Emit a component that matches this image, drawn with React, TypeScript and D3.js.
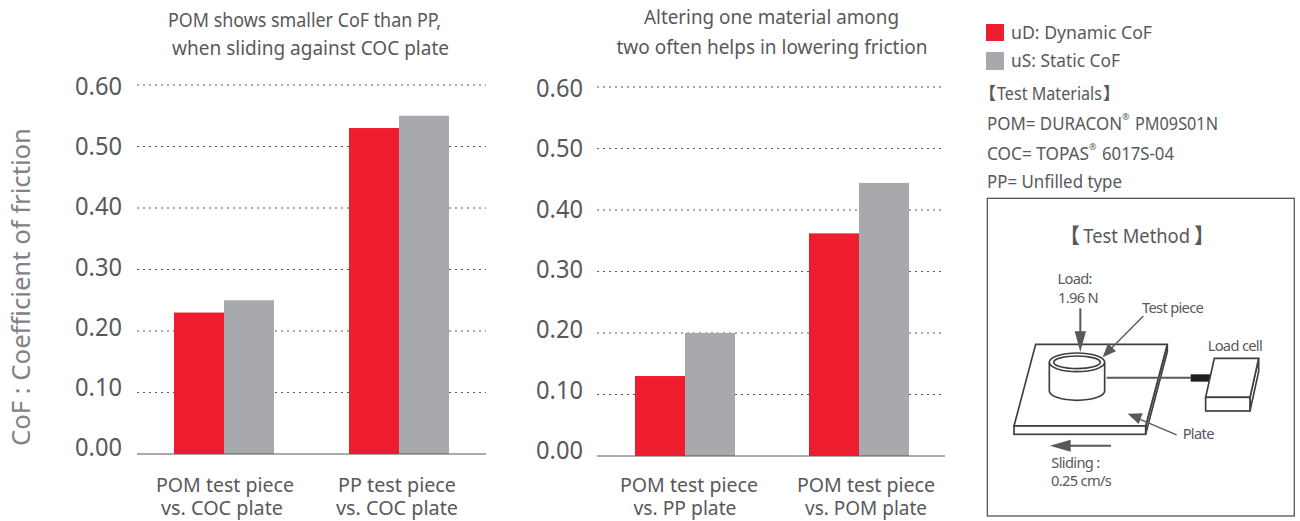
import React from "react";
import * as d3 from "d3";

const FONT = "'Noto Sans', 'Open Sans', sans-serif";
const CJK = "'Noto Sans CJK JP', sans-serif";
const RED = "#ed1c2e";
const GREY = "#a7a9ac";
const TEXT = "#58595b";

const ticks = [0, 0.1, 0.2, 0.3, 0.4, 0.5, 0.6];
const leftCategories = [["POM test piece", "vs. COC plate"], ["PP test piece", "vs. COC plate"]];
const leftDynamic = [0.23, 0.53];
const leftStatic = [0.25, 0.55];
const rightCategories = [["POM test piece", "vs. PP plate"], ["POM test piece", "vs. POM plate"]];
const rightDynamic = [0.13, 0.362];
const rightStatic = [0.2, 0.444];
const leftTitle = ["POM shows smaller CoF than PP,", "when sliding against COC plate"];
const rightTitle = ["Altering one material among", "two often helps in lowering friction"];

type PanelProps = {
  x0: number; x1: number; yZero: number; yTop: number; tickBase: [number, number];
  centers: number[]; labels: string[][]; dyn: number[]; sta: number[];
  title: string[]; titleX: number[]; titleY: number[]; titleW: number[];
  labelX: number[][]; labelY: number[]; labelW: number[][]; tickX: number;
};

function Panel(p: PanelProps) {
  const y = d3.scaleLinear().domain([0, 0.6]).range([p.yZero, p.yTop]);
  const yLabel = d3.scaleLinear().domain([0, 0.6]).range(p.tickBase);
  const barW = 50;
  return (
    <g fontFamily={FONT}>
      {ticks.map((t) => (
        <g key={t}>
          {t > 0 && (
            <line x1={p.x0} x2={p.x1} y1={y(t)} y2={y(t)} stroke="#58595b" strokeWidth={1} strokeDasharray="2 4" />
          )}
          <text x={p.tickX} y={yLabel(t)} textAnchor="end" fontSize={25} fill={TEXT} textLength={47} lengthAdjust="spacingAndGlyphs">
            {d3.format(".2f")(t)}
          </text>
        </g>
      ))}
      {p.centers.map((c, i) => (
        <g key={i}>
          <rect x={c - barW} width={barW} y={y(p.dyn[i])} height={p.yZero - y(p.dyn[i])} fill={RED} />
          <rect x={c} width={barW} y={y(p.sta[i])} height={p.yZero - y(p.sta[i])} fill={GREY} />
          {p.labels[i].map((l, j) => (
            <text key={j} x={p.labelX[i][j]} y={p.labelY[j]} textAnchor="middle" fontSize={19.5} fill={TEXT}
              textLength={p.labelW[i][j]} lengthAdjust="spacingAndGlyphs">
              {l}
            </text>
          ))}
        </g>
      ))}
      <line x1={p.x0} x2={p.x1} y1={p.yZero} y2={p.yZero} stroke="#58595b" strokeWidth={1} />
      {p.title.map((l, j) => (
        <text key={j} x={p.titleX[j]} y={p.titleY[j]} textAnchor="middle" fontSize={19.5} fill={TEXT}
          textLength={p.titleW[j]} lengthAdjust="spacingAndGlyphs">
          {l}
        </text>
      ))}
    </g>
  );
}

function Diagram() {
  const st = { fill: "#fff", stroke: "#3f3f41", strokeWidth: 5 };
  const ln = { stroke: "#58595b", strokeWidth: 6, fill: "none" };
  const ar = { fill: "#58595b", stroke: "none" };
  const txt = { fontSize: 44, fill: TEXT, letterSpacing: "-2px" } as const;
  return (
    <g transform="translate(980,190) scale(0.3333)" fontFamily={FONT}>
      <rect x={22} y={25} width={921} height={953} fill="#fff" stroke="#58595b" strokeWidth={4} />
      <text x={238} y={160} fontSize={62} fill={TEXT} fontWeight={700} fontFamily={CJK}>【</text>
      <text x={310} y={160} fontSize={62} fill={TEXT} textLength={320} lengthAdjust="spacingAndGlyphs">Test Method</text>
      <text x={642} y={160} fontSize={62} fill={TEXT} fontWeight={700} fontFamily={CJK}>】</text>
      <polygon points="562,463 562,485 497,733 497,708" {...st} />
      <polygon points="167,463 562,463 497,708 102,708" {...st} />
      <rect x={102} y={708} width={395} height={25} {...st} />
      <path d="M208,517 V603 A83,28 0 0 0 374,603 V517" {...st} />
      <ellipse cx={291} cy={517} rx={83} ry={28} {...st} />
      <ellipse cx={291} cy={517} rx={70} ry={19} {...st} />
      <line x1={380} y1={563} x2={632} y2={563} {...ln} />
      <rect x={632} y={553} width={60} height={22} fill="#231f20" />
      <polygon points="836,505 836,545 810,663 810,622" {...st} />
      <polygon points="703,505 836,505 810,622 677,622" {...st} />
      <rect x={677} y={622} width={133} height={41} {...st} />
      <line x1={301} y1={355} x2={301} y2={430} {...ln} />
      <polygon points="284,424 318,424 301,486" {...ar} />
      <line x1={490} y1={378} x2={395} y2={474} stroke="#58595b" strokeWidth={4} />
      <polygon points="368,502 384,460 408,484" {...ar} />
      <line x1={590} y1={735} x2={475} y2={686} stroke="#58595b" strokeWidth={4} />
      <polygon points="443,671 488,670 476,702" {...ar} />
      <line x1={393} y1={767} x2={270} y2={767} {...ln} />
      <polygon points="210,767 272,749 272,785" {...ar} />
      <text x={284} y={283} textAnchor="middle" {...txt}>Load:</text>
      <text x={294} y={338} textAnchor="middle" {...txt}>1.96 N</text>
      <text x={486} y={369} {...txt}>Test piece</text>
      <text x={683} y={483} {...txt}>Load cell</text>
      <text x={608} y={746} {...txt}>Plate</text>
      <text x={214} y={834} {...txt}>Sliding :</text>
      <text x={213} y={887} {...txt}>0.25 cm/s</text>
    </g>
  );
}

export default function App() {
  return (
    <svg width={1300} height={521} style={{ position: "absolute", left: 0, top: 0, background: "#fff" }}>
      <Panel x0={137} x1={486} yZero={454} yTop={85} tickBase={[456, 95]} centers={[224, 399]} labels={leftCategories} dyn={leftDynamic} sta={leftStatic}
        title={leftTitle} titleX={[304.5, 310.5]} titleY={[27, 55]} titleW={[273, 277]}
        labelX={[[225, 222], [397, 397]]} labelY={[492, 515]} labelW={[[138, 122], [118, 122]]} tickX={122} />
      <Panel x0={597} x1={945} yZero={456} yTop={87} tickBase={[459, 97]} centers={[685, 859]} labels={rightCategories} dyn={rightDynamic} sta={rightStatic}
        title={rightTitle} titleX={[771.5, 772]} titleY={[24, 54]} titleW={[255, 311]}
        labelX={[[689, 685], [866, 866]]} labelY={[492, 515]} labelW={[[138, 103], [138, 122]]} tickX={583} />
      <text transform="translate(30,287) rotate(-90)" textAnchor="middle" fontFamily={FONT} fontSize={26} fill="#808285"
        textLength={318} lengthAdjust="spacingAndGlyphs">
        CoF : Coefficient of friction
      </text>
      <g fontFamily={FONT} fill={TEXT}>
        <rect x={986} y={24} width={18} height={17} fill={RED} />
        <rect x={986} y={52} width={18} height={18} fill={GREY} />
        <text x={1011} y={39} fontSize={18} textLength={141} lengthAdjust="spacingAndGlyphs">uD: Dynamic CoF</text>
        <text x={1011} y={67} fontSize={18} textLength={109} lengthAdjust="spacingAndGlyphs">uS: Static CoF</text>
        <text x={979} y={100} fontSize={17} fontWeight={700} fontFamily={CJK}>【</text>
        <text x={997} y={100} fontSize={17.5} textLength={105} lengthAdjust="spacingAndGlyphs">Test Materials</text>
        <text x={1103} y={100} fontSize={17} fontWeight={700} fontFamily={CJK}>】</text>
        <text x={987} y={130} fontSize={17.5} textLength={135} lengthAdjust="spacingAndGlyphs">POM= DURACON</text>
        <text x={1122} y={120} fontSize={9}>®</text>
        <text x={1135} y={130} fontSize={17.5} textLength={83} lengthAdjust="spacingAndGlyphs">PM09S01N</text>
        <text x={987} y={160} fontSize={17.5} textLength={102} lengthAdjust="spacingAndGlyphs">COC= TOPAS</text>
        <text x={1089} y={150} fontSize={9}>®</text>
        <text x={1102} y={160} fontSize={17.5} textLength={72} lengthAdjust="spacingAndGlyphs">6017S-04</text>
        <text x={987} y={188} fontSize={17.5} textLength={135} lengthAdjust="spacingAndGlyphs">PP= Unfilled type</text>
      </g>
      <Diagram />
    </svg>
  );
}
